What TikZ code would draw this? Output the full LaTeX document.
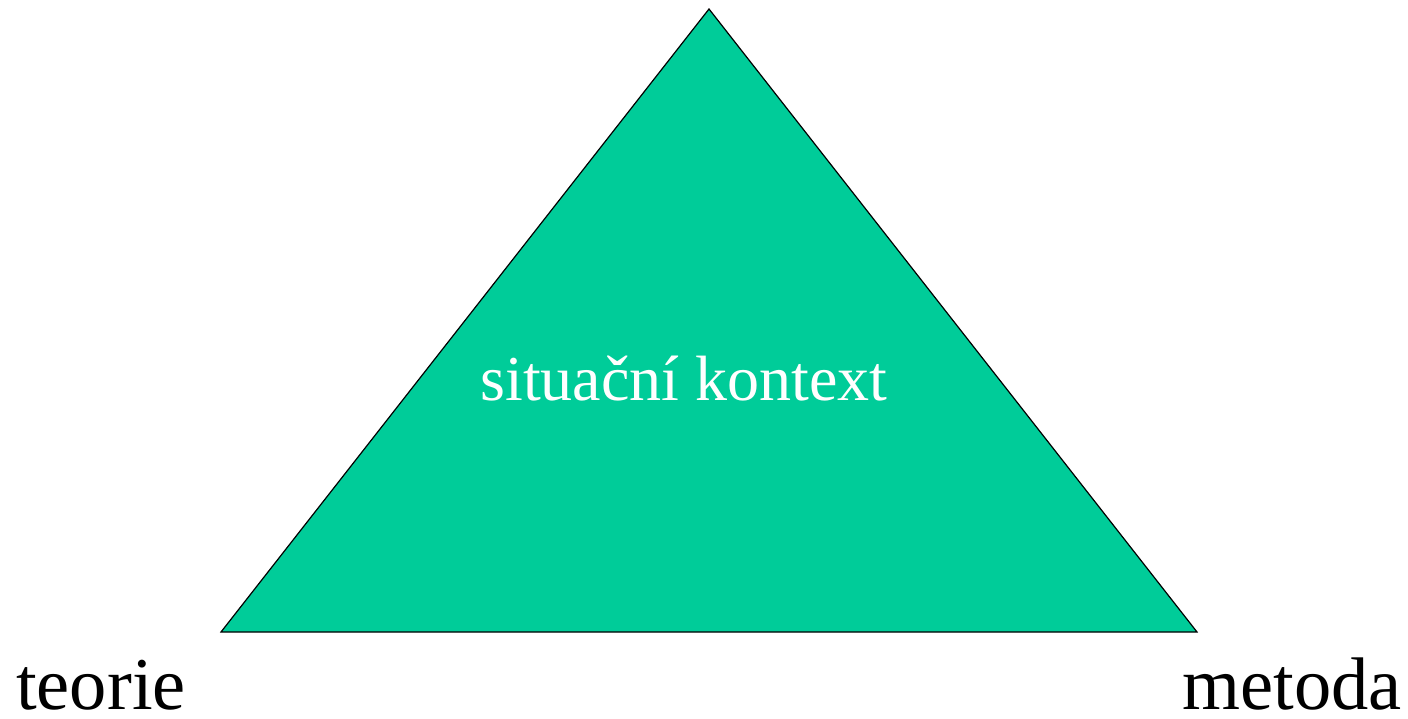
\documentclass[tikz,border=0pt]{standalone}
\usepackage{fontspec}
\setmainfont{Liberation Serif}
\usetikzlibrary{positioning}
\definecolor{TriGreen}{RGB}{0,204,153}
\tikzset{
  tri face/.style={draw=black, line width=1.2pt, fill=TriGreen, line join=miter},
  tri label/.style={inner sep=0pt, text depth=0pt, font=\fontsize{74.5}{80}\selectfont, text=black},
  tri inner/.style={inner sep=0pt, font=\fontsize{64}{70}\selectfont, text=white}
}
\begin{document}
\begin{tikzpicture}[x=1pt,y=-1pt]
\useasboundingbox (0,0) rectangle (1408,719);
\coordinate (apex) at (709,9);
\coordinate (left) at (221,632);
\coordinate (right) at (1197,632);
\fill[white] (0,0) rectangle (1408,719);
\draw[tri face] (apex)--(right)--(left)--cycle;
\node[tri inner, anchor=base] (ctx) at (684,400) {situační kontext};
\node[tri label, anchor=base west] (theory) at (16,709) {teorie};
\node[tri label, anchor=base east] (method) at (1402,709) {metoda};
\end{tikzpicture}
\end{document}
